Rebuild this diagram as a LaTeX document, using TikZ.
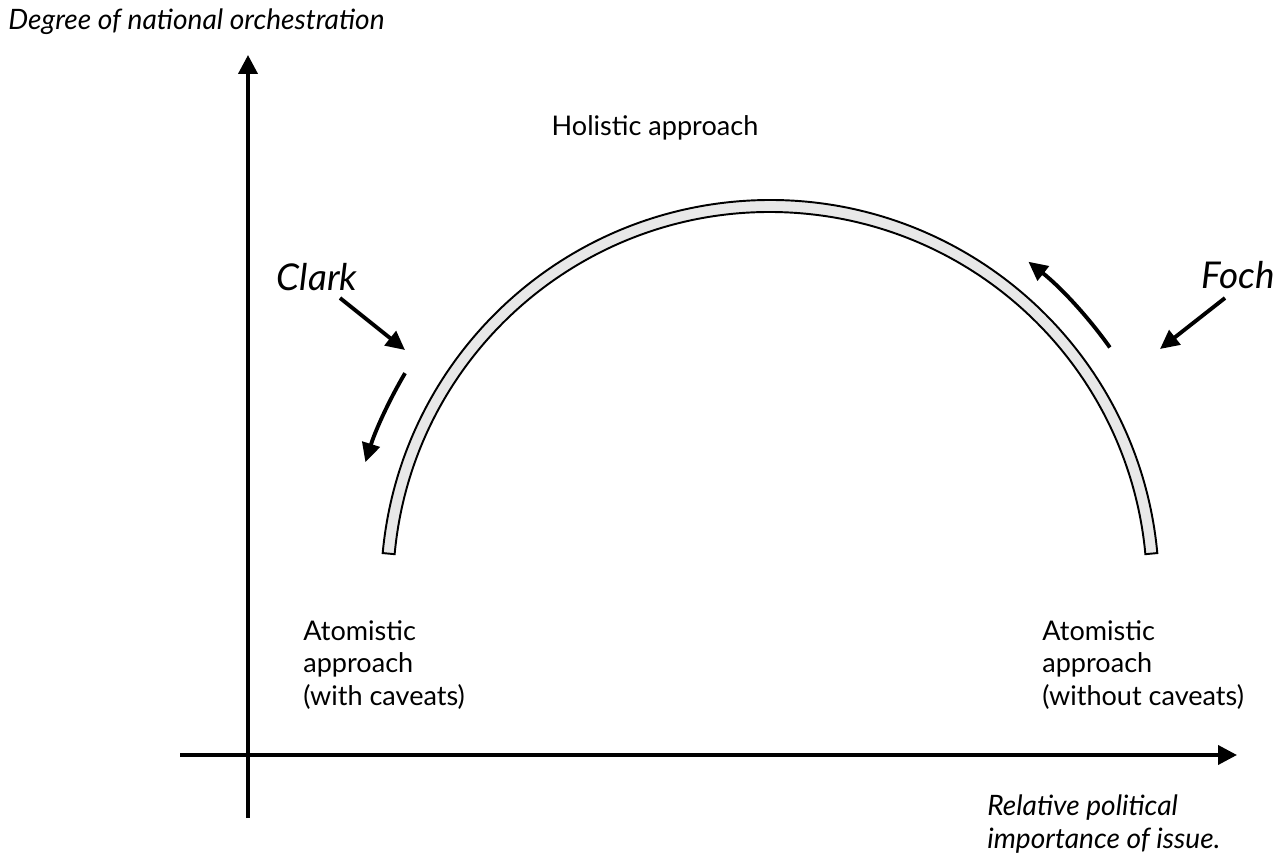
\documentclass[tikz,border=0pt]{standalone}
\usepackage{fontspec}
\setmainfont{Lato}
\usetikzlibrary{arrows.meta}
\begin{document}
\begin{tikzpicture}[x=0.02cm,y=0.02cm,
  axis/.style={line width=2.2pt,-{Triangle[length=0.38cm,width=0.38cm]}},
  mover/.style={line width=2.2pt,-{Triangle[length=0.38cm,width=0.36cm]}},
  lbl/.style={font=\fontsize{15.4}{18.5}\selectfont,inner sep=0pt},
  itl/.style={font=\fontsize{16}{18.5}\selectfont\itshape,inner sep=0pt},
  actor/.style={font=\fontsize{21}{24}\selectfont\itshape,inner sep=0pt},
  band/.style={draw=black,line width=1.1pt,fill=gray!18}]
\useasboundingbox (0,0) rectangle (1275,863);
% axes
\coordinate (yb) at (248,45);
\coordinate (yt) at (248,808);
\coordinate (xl) at (180,108);
\coordinate (xr) at (1237,108);
\draw[axis] (yb) -- (yt);
\draw[axis] (xl) -- (xr);
% arc of approaches
\coordinate (c) at (770,274);
\draw[band] ([shift={(5.3:389)}]c) arc[start angle=5.3,end angle=174.7,radius=389]
  -- ([shift={(174.7:377)}]c) arc[start angle=174.7,end angle=5.3,radius=377] -- cycle;
% labels
\node[itl,anchor=west] (ylab) at (8,841) {Degree of national orchestration};
\node[itl,anchor=west,align=left] (xlab) at (987,39) {Relative political\\importance of issue.};
\node[lbl] (hol) at (655,735) {Holistic approach};
\node[lbl,anchor=west,align=left] (atl) at (303,198) {Atomistic\\approach\\(with caveats)};
\node[lbl,anchor=west,align=left] (atr) at (1042,198) {Atomistic\\approach\\(without caveats)};
\node[actor] (clark) at (317,586) {Clark};
\node[actor] (foch) at (1238,588) {Foch};
% pushes along the arc
\coordinate (ca) at (340,565);
\coordinate (cb) at (405,513);
\coordinate (fa) at (1225,565);
\coordinate (fb) at (1160,514);
\draw[mover] (ca) -- (cb);
\draw[mover] (fa) -- (fb);
\draw[mover] ([shift={(149.4:424)}]c) arc[start angle=149.4,end angle=162.6,radius=424];
\draw[mover] ([shift={(35.4:417)}]c) arc[start angle=35.4,end angle=51.7,radius=417];
\end{tikzpicture}
\end{document}
